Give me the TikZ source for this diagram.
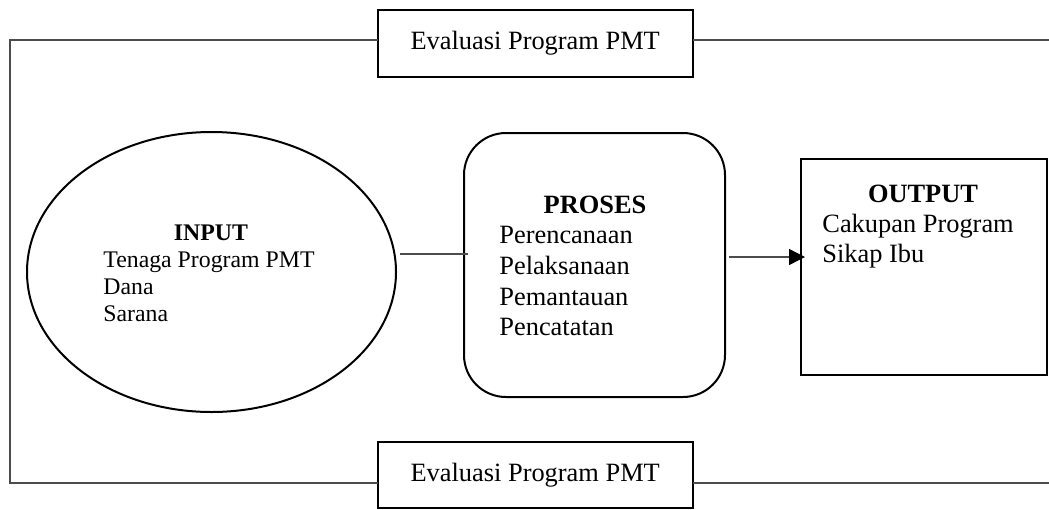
\documentclass[tikz,border=0pt]{standalone}
\usepackage{fontspec}
\setmainfont{Liberation Serif}
\usetikzlibrary{shapes.geometric}
\usetikzlibrary{arrows.meta}
\tikzset{box/.style={draw=black, line width=1pt, inner sep=0pt, outer sep=0pt}}
\tikzset{frameline/.style={draw=black!70, line width=0.7pt}}
\tikzset{txt/.style={inner sep=0pt, font=\fontsize{13.2}{15.2}\selectfont}, smalltxt/.style={inner sep=0pt, font=\fontsize{11.9}{13.5}\selectfont}}

\begin{document}
\begin{tikzpicture}[x=0.5pt, y=-0.5pt]
	\useasboundingbox (0, 0) rectangle (1049, 509);
	% evaluation boxes
	\node[box, txt, minimum width=157.5pt, minimum height=33.6pt] (evtop) at (535.2, 43.1) {Evaluasi Program PMT};
	\node[box, txt, minimum width=157.5pt, minimum height=32.8pt] (evbot) at (535.2, 474.9) {Evaluasi Program PMT};
	\coordinate (tl) at (10, 40);
	\coordinate (tr) at (1049, 40);
	\coordinate (bl) at (10, 483);
	\coordinate (br) at (1049, 483);
	\draw[frameline] (tl -| evtop.west) -- (tl) -- (bl) -- (bl -| evbot.west);
	\draw[frameline] (evtop.east |- tr) -- (tr);
	\draw[frameline] (evbot.east |- br) -- (br);
	% input
	\node[box, ellipse, minimum width=184.5pt, minimum height=140pt] (input) at (211.5, 272) {};
	\node[smalltxt, anchor=base] (intitle) at (211, 240) {\textbf{INPUT}};
	\foreach \t [count=\i] in {Tenaga Program PMT, Dana, Sarana}
		\node[smalltxt, anchor=base west] (in\i) at (103, 240+27*\i) {\t};
	% proses
	\node[box, rounded corners=21pt, minimum width=130.5pt, minimum height=132pt] (proses) at (594.5, 265) {};
	\node[txt, anchor=base] (prtitle) at (595, 213) {\textbf{PROSES}};
	\foreach \t [count=\i] in {Perencanaan, Pelaksanaan, Pemantauan, Pencatatan}
		\node[txt, anchor=base west] (pr\i) at (499, 213+30.7*\i) {\t};
	% output
	\node[box, minimum width=123pt, minimum height=108pt] (output) at (924, 267) {};
	\node[txt, anchor=base] (outtitle) at (923, 202) {\textbf{OUTPUT}};
	\foreach \t [count=\i] in {Cakupan Program, Sikap Ibu}
		\node[txt, anchor=base west] (out\i) at (822, 202+30*\i) {\t};
	% connectors
	\draw[frameline] ([shift={(2pt,9pt)}]input.east) -- ([shift={(2pt,9pt)}]input.east -| proses.west);
	\draw[frameline, -{Triangle[length=8pt, width=8pt, color=black]}] ([shift={(2pt,4pt)}]proses.east) -- ([shift={(2pt,4pt)}]proses.east -| output.west);
\end{tikzpicture}
\end{document}
